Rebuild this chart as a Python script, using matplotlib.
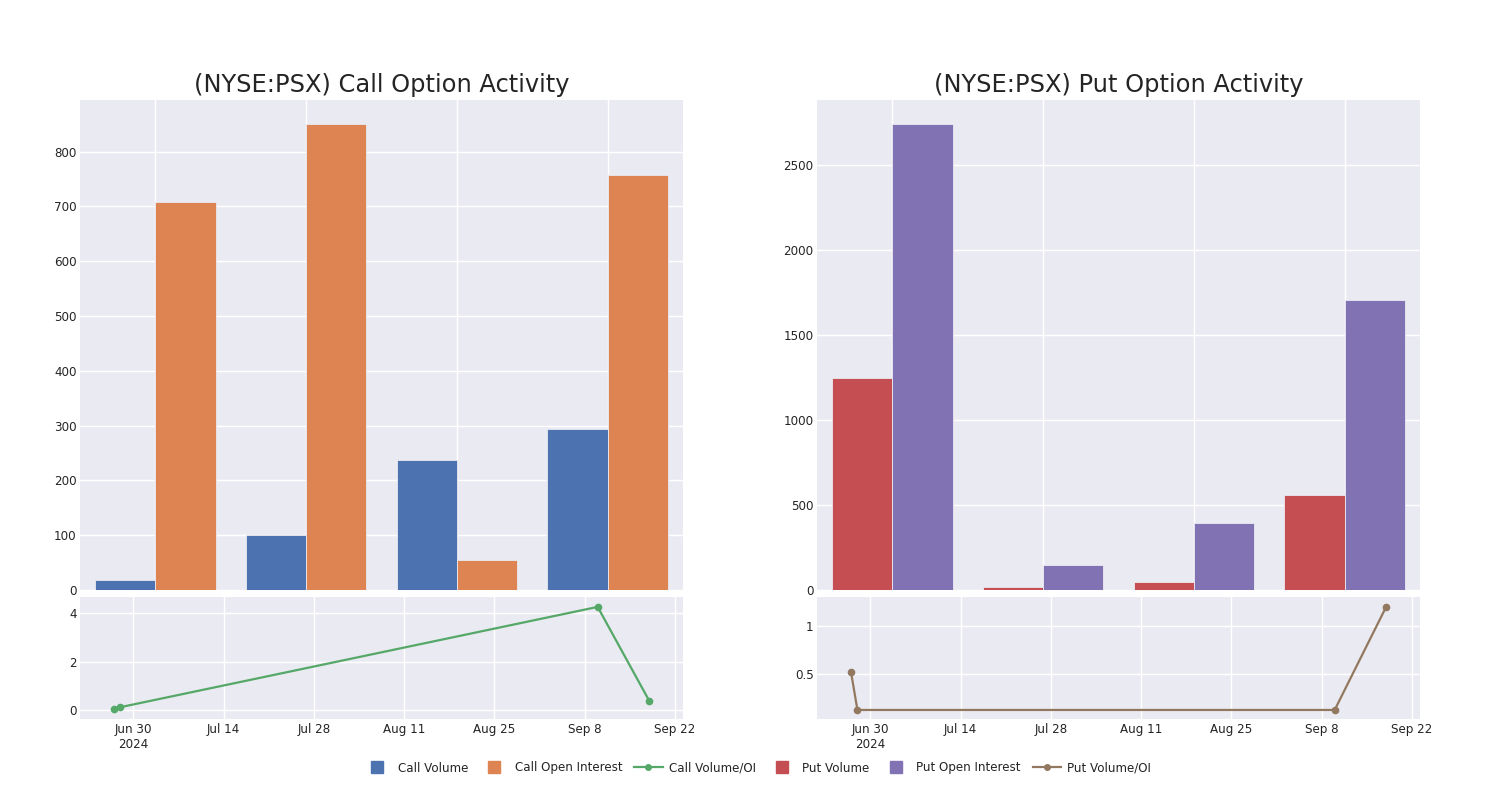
import numpy as np
import pandas as pd
import matplotlib
matplotlib.use("Agg")
import matplotlib.pyplot as plt
from matplotlib.lines import Line2D

# bar data (4 expiry groups)
groups = ["g1", "g2", "g3", "g4"]
call_volume = [19, 101, 238, 294]
call_oi = [708, 850, 55, 757]
put_volume = [1250, 18, 50, 560]
put_oi = [2745, 148, 396, 1707]

# volume / open interest line data
ratio_dates = pd.to_datetime(["2024-06-27", "2024-06-28", "2024-09-10", "2024-09-18"])
call_ratio = [0.03, 0.12, 4.27, 0.38]
put_ratio = [0.52, 0.125, 0.125, 1.2]

tick_dates = pd.to_datetime(["2024-06-30", "2024-07-14", "2024-07-28", "2024-08-11",
                             "2024-08-25", "2024-09-08", "2024-09-22"])
tick_labels = ["Jun 30\n2024", "Jul 14", "Jul 28", "Aug 11", "Aug 25", "Sep 8", "Sep 22"]

BG = "#EAEAF2"
TXT = "#242424"
C_BLUE, C_ORANGE, C_GREEN = "#4C72B0", "#DD8452", "#55A868"
C_RED, C_PURPLE, C_BROWN = "#C44E52", "#8172B3", "#937860"

plt.rcParams["font.family"] = ["DejaVu Sans"]

fig = plt.figure(figsize=(15, 8), dpi=100)
W, H = 1500.0, 800.0


def px_axes(x0, y0, x1, y1):
    return fig.add_axes([x0 / W, 1 - y1 / H, (x1 - x0) / W, (y1 - y0) / H])


def style(ax):
    ax.set_facecolor(BG)
    for s in ax.spines.values():
        s.set_visible(False)
    ax.grid(True, color="white", linewidth=1.0)
    ax.set_axisbelow(True)
    ax.tick_params(length=0, colors=TXT, labelsize=8.6)
    ax.tick_params(axis="y", pad=2.5)
    ax.tick_params(axis="x", pad=3)


def bar_panel(ax, vol, oi, c1, c2, top, step, title):
    style(ax)
    x = np.arange(len(groups))
    ax.bar(x - 0.2, vol, width=0.4, color=c1, edgecolor="#EAEAF2", linewidth=0.6)
    ax.bar(x + 0.2, oi, width=0.4, color=c2, edgecolor="#EAEAF2", linewidth=0.6)
    ax.set_xlim(-0.5, len(groups) - 0.5)
    ax.set_ylim(0, top)
    ax.set_xticks(x)
    ax.set_xticklabels([])
    ax.set_yticks(np.arange(0, top, step))
    ax.set_title(title, fontsize=17.4, color=TXT, pad=6)


def line_panel(ax, vals, color, ylim, yticks, yticklabels):
    style(ax)
    ax.plot(ratio_dates, vals, color=color, linewidth=1.6, marker="o", markersize=4.5)
    ax.set_xlim(pd.Timestamp("2024-06-30") - pd.Timedelta(days=8.27),
                pd.Timestamp("2024-06-30") + pd.Timedelta(days=85.23))
    ax.set_ylim(*ylim)
    ax.set_xticks(tick_dates)
    ax.set_xticklabels(tick_labels)
    ax.set_yticks(yticks)
    ax.set_yticklabels(yticklabels)


ax1 = px_axes(80, 100, 683, 590)
bar_panel(ax1, call_volume, call_oi, C_BLUE, C_ORANGE, 894, 100,
          "(NYSE:PSX) Call Option Activity")
ax2 = px_axes(80, 597, 683, 719)
line_panel(ax2, call_ratio, C_GREEN, (-0.37, 4.68), [0, 2, 4], ["0", "2", "4"])

ax3 = px_axes(817, 100, 1420, 590)
bar_panel(ax3, put_volume, put_oi, C_RED, C_PURPLE, 2885, 500,
          "(NYSE:PSX) Put Option Activity")
ax4 = px_axes(817, 597, 1420, 719)
line_panel(ax4, put_ratio, C_BROWN, (0.031, 1.30), [0.5, 1], ["0.5", "1"])

handles = [
    Line2D([], [], linestyle="none", marker="s", markersize=8, color=C_BLUE),
    Line2D([], [], linestyle="none", marker="s", markersize=8, color=C_ORANGE),
    Line2D([], [], color=C_GREEN, linewidth=1.6, marker="o", markersize=4),
    Line2D([], [], linestyle="none", marker="s", markersize=8, color=C_RED),
    Line2D([], [], linestyle="none", marker="s", markersize=8, color=C_PURPLE),
    Line2D([], [], color=C_BROWN, linewidth=1.6, marker="o", markersize=4),
]
labels = ["Call Volume", "Call Open Interest", "Call Volume/OI",
          "Put Volume", "Put Open Interest", "Put Volume/OI"]
leg = fig.legend(handles, labels, loc="center", bbox_to_anchor=(757 / W, 1 - 768 / H),
                 ncol=6, frameon=False, fontsize=8.6, handlelength=2.4,
                 handletextpad=0.5, columnspacing=1.0, labelcolor=TXT)

fig.savefig("out.png", dpi=100, facecolor="white")
